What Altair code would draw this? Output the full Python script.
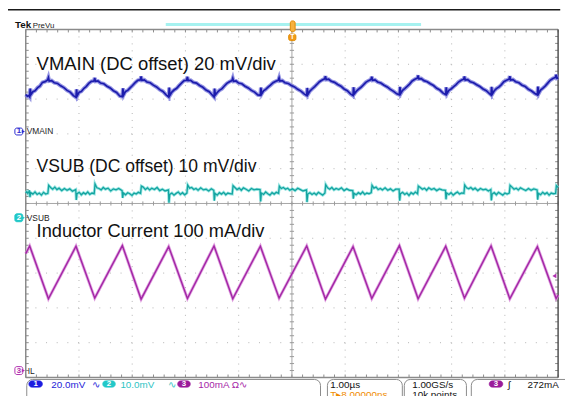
import altair as alt
import pandas as pd

# ---------------- data ----------------
# time in µs (1 µs/div, screen centre = 0), amplitude in screen divisions (centre = 0)
il_t = [-5.000, -4.926, -4.574, -4.056, -3.704, -3.185, -2.833, -2.315, -1.963,
        -1.463, -1.111, -0.593, -0.241, 0.278, 0.630, 1.148, 1.500, 2.019,
        2.370, 2.889, 3.241, 3.741, 4.093, 4.611, 4.963, 5.000]
il_v = [-1.44, -1.22, -2.74, -1.23, -2.72, -1.21, -2.75, -1.24, -2.73, -1.22,
        -2.74, -1.23, -2.72, -1.22, -2.75, -1.24, -2.73, -1.21, -2.74, -1.23,
        -2.72, -1.22, -2.74, -1.24, -2.73, -2.63]

vmain_t = [
    -5.000, -4.970, -4.945,
    -4.926, -4.916, -4.901, -4.866, -4.826, -4.776, -4.736, -4.686, -4.636, -4.589, -4.574, -4.559, -4.514, -4.464, -4.404, -4.344, -4.284, -4.224, -4.164, -4.104,
    -4.056, -4.046, -4.031, -3.996, -3.956, -3.906, -3.866, -3.816, -3.766, -3.719, -3.704, -3.689, -3.644, -3.594, -3.534, -3.474, -3.414, -3.354, -3.294, -3.234,
    -3.185, -3.175, -3.160, -3.125, -3.085, -3.035, -2.995, -2.945, -2.895, -2.848, -2.833, -2.818, -2.773, -2.723, -2.663, -2.603, -2.543, -2.483, -2.423, -2.363,
    -2.315, -2.305, -2.290, -2.255, -2.215, -2.165, -2.125, -2.075, -2.025, -1.978, -1.963, -1.948, -1.903, -1.853, -1.793, -1.733, -1.673, -1.613, -1.553, -1.493,
    -1.463, -1.453, -1.438, -1.403, -1.363, -1.313, -1.273, -1.223, -1.173, -1.126, -1.111, -1.096, -1.051, -1.001, -0.941, -0.881, -0.821, -0.761, -0.701, -0.641,
    -0.593, -0.583, -0.568, -0.533, -0.493, -0.443, -0.403, -0.353, -0.303, -0.256, -0.241, -0.226, -0.181, -0.131, -0.071, -0.011, 0.049, 0.109, 0.169, 0.229,
    0.278, 0.288, 0.303, 0.338, 0.378, 0.428, 0.468, 0.518, 0.568, 0.615, 0.630, 0.645, 0.690, 0.740, 0.800, 0.860, 0.920, 0.980, 1.040, 1.100,
    1.148, 1.158, 1.173, 1.208, 1.248, 1.298, 1.338, 1.388, 1.438, 1.485, 1.500, 1.515, 1.560, 1.610, 1.670, 1.730, 1.790, 1.850, 1.910, 1.970,
    2.019, 2.029, 2.044, 2.079, 2.119, 2.169, 2.209, 2.259, 2.309, 2.355, 2.370, 2.385, 2.430, 2.480, 2.540, 2.600, 2.660, 2.720, 2.780, 2.840,
    2.889, 2.899, 2.914, 2.949, 2.989, 3.039, 3.079, 3.129, 3.179, 3.226, 3.241, 3.256, 3.301, 3.351, 3.411, 3.471, 3.531, 3.591, 3.651, 3.711,
    3.741, 3.751, 3.766, 3.801, 3.841, 3.891, 3.931, 3.981, 4.031, 4.078, 4.093, 4.108, 4.153, 4.203, 4.263, 4.323, 4.383, 4.443, 4.503, 4.563,
    4.611, 4.621, 4.636, 4.671, 4.711, 4.761, 4.801, 4.851, 4.901, 4.948, 4.963, 4.978, 5.000,
]
vmain_v = [
    3.13, 3.08, 3.10,
    3.06, 3.30, 3.13, 3.21, 3.24, 3.33, 3.37, 3.48, 3.50, 3.55, 3.62, 3.52, 3.53, 3.47, 3.45, 3.38, 3.33, 3.25, 3.20, 3.10,
    3.05, 3.28, 3.10, 3.20, 3.22, 3.31, 3.36, 3.45, 3.51, 3.52, 3.61, 3.51, 3.52, 3.46, 3.44, 3.37, 3.32, 3.24, 3.19, 3.09,
    3.07, 3.31, 3.12, 3.22, 3.25, 3.33, 3.39, 3.47, 3.54, 3.55, 3.65, 3.54, 3.55, 3.49, 3.47, 3.40, 3.35, 3.27, 3.22, 3.12,
    3.06, 3.33, 3.11, 3.20, 3.26, 3.31, 3.38, 3.46, 3.53, 3.54, 3.64, 3.53, 3.54, 3.48, 3.46, 3.39, 3.34, 3.26, 3.21, 3.11,
    3.06, 3.30, 3.12, 3.19, 3.25, 3.30, 3.37, 3.45, 3.50, 3.53, 3.60, 3.51, 3.52, 3.46, 3.44, 3.37, 3.32, 3.25, 3.20, 3.12,
    3.11, 3.33, 3.15, 3.24, 3.28, 3.35, 3.40, 3.47, 3.51, 3.54, 3.61, 3.52, 3.53, 3.47, 3.45, 3.39, 3.35, 3.28, 3.23, 3.15,
    3.10, 3.32, 3.14, 3.23, 3.29, 3.36, 3.42, 3.50, 3.55, 3.58, 3.66, 3.56, 3.57, 3.51, 3.48, 3.42, 3.37, 3.29, 3.24, 3.15,
    3.10, 3.34, 3.15, 3.22, 3.28, 3.34, 3.40, 3.48, 3.53, 3.56, 3.64, 3.54, 3.55, 3.49, 3.46, 3.40, 3.35, 3.28, 3.22, 3.15,
    3.12, 3.35, 3.16, 3.25, 3.30, 3.37, 3.43, 3.52, 3.57, 3.60, 3.68, 3.58, 3.59, 3.53, 3.50, 3.44, 3.39, 3.31, 3.26, 3.17,
    3.13, 3.34, 3.16, 3.25, 3.29, 3.36, 3.41, 3.49, 3.54, 3.57, 3.65, 3.55, 3.56, 3.50, 3.47, 3.41, 3.36, 3.29, 3.24, 3.16,
    3.12, 3.35, 3.15, 3.24, 3.30, 3.35, 3.41, 3.50, 3.54, 3.57, 3.66, 3.55, 3.56, 3.50, 3.47, 3.40, 3.36, 3.28, 3.23, 3.16,
    3.12, 3.36, 3.16, 3.26, 3.31, 3.38, 3.45, 3.54, 3.59, 3.62, 3.70, 3.60, 3.61,
]

vsub_t = [
    -5.000, -4.980, -4.960, -4.945,
    -4.931, -4.921, -4.906, -4.866, -4.826, -4.786, -4.746, -4.706, -4.666, -4.626, -4.584, -4.569, -4.534, -4.494, -4.454, -4.414, -4.374, -4.324, -4.274, -4.224, -4.174, -4.124,
    -4.061, -4.051, -4.036, -3.996, -3.956, -3.916, -3.876, -3.836, -3.796, -3.756, -3.714, -3.699, -3.664, -3.624, -3.584, -3.544, -3.504, -3.454, -3.404, -3.354, -3.304, -3.254,
    -3.190, -3.180, -3.165, -3.125, -3.085, -3.045, -3.005, -2.965, -2.925, -2.885, -2.843, -2.828, -2.793, -2.753, -2.713, -2.673, -2.633, -2.583, -2.533, -2.483, -2.433, -2.383,
    -2.320, -2.310, -2.295, -2.255, -2.215, -2.175, -2.135, -2.095, -2.055, -2.015, -1.973, -1.958, -1.923, -1.883, -1.843, -1.803, -1.763, -1.713, -1.663, -1.613, -1.563, -1.513,
    -1.468, -1.458, -1.443, -1.403, -1.363, -1.323, -1.283, -1.243, -1.203, -1.163, -1.121, -1.106, -1.071, -1.031, -0.991, -0.951, -0.911, -0.861, -0.811, -0.761, -0.711, -0.661,
    -0.598, -0.588, -0.573, -0.533, -0.493, -0.453, -0.413, -0.373, -0.333, -0.293, -0.251, -0.236, -0.201, -0.161, -0.121, -0.081, -0.041, 0.009, 0.059, 0.109, 0.159, 0.209,
    0.273, 0.283, 0.298, 0.338, 0.378, 0.418, 0.458, 0.498, 0.538, 0.578, 0.620, 0.635, 0.670, 0.710, 0.750, 0.790, 0.830, 0.880, 0.930, 0.980, 1.030, 1.080,
    1.143, 1.153, 1.168, 1.208, 1.248, 1.288, 1.328, 1.368, 1.408, 1.448, 1.490, 1.505, 1.540, 1.580, 1.620, 1.660, 1.700, 1.750, 1.800, 1.850, 1.900, 1.950,
    2.014, 2.024, 2.039, 2.079, 2.119, 2.159, 2.199, 2.239, 2.279, 2.319, 2.360, 2.375, 2.410, 2.450, 2.490, 2.530, 2.570, 2.620, 2.670, 2.720, 2.770, 2.820,
    2.884, 2.894, 2.909, 2.949, 2.989, 3.029, 3.069, 3.109, 3.149, 3.189, 3.231, 3.246, 3.281, 3.321, 3.361, 3.401, 3.441, 3.491, 3.541, 3.591, 3.641, 3.691,
    3.736, 3.746, 3.761, 3.801, 3.841, 3.881, 3.921, 3.961, 4.001, 4.041, 4.083, 4.098, 4.133, 4.173, 4.213, 4.253, 4.293, 4.343, 4.393, 4.443, 4.493, 4.543,
    4.606, 4.616, 4.631, 4.671, 4.711, 4.751, 4.791, 4.831, 4.871, 4.911, 4.953, 4.968, 5.000,
]
vsub_v = [
    0.30, 0.34, 0.29, 0.33,
    0.38, 0.18, 0.31, 0.27, 0.33, 0.26, 0.30, 0.24, 0.32, 0.27, 0.29, 0.52, 0.46, 0.41, 0.47, 0.40, 0.44, 0.37, 0.43, 0.38, 0.42, 0.35,
    0.40, 0.10, 0.28, 0.32, 0.25, 0.31, 0.27, 0.33, 0.26, 0.30, 0.28, 0.56, 0.45, 0.43, 0.39, 0.46, 0.41, 0.44, 0.36, 0.42, 0.39, 0.43,
    0.37, 0.16, 0.30, 0.25, 0.31, 0.28, 0.23, 0.30, 0.27, 0.32, 0.29, 0.50, 0.47, 0.40, 0.45, 0.39, 0.44, 0.40, 0.46, 0.37, 0.41, 0.36,
    0.39, 0.02, 0.26, 0.30, 0.24, 0.29, 0.33, 0.26, 0.31, 0.25, 0.30, 0.53, 0.44, 0.46, 0.40, 0.43, 0.38, 0.45, 0.39, 0.41, 0.36, 0.42,
    0.38, 0.08, 0.29, 0.24, 0.31, 0.27, 0.32, 0.25, 0.30, 0.28, 0.27, 0.51, 0.46, 0.40, 0.44, 0.38, 0.45, 0.41, 0.36, 0.43, 0.39, 0.41,
    0.40, 0.06, 0.30, 0.26, 0.33, 0.28, 0.24, 0.31, 0.27, 0.32, 0.29, 0.50, 0.43, 0.46, 0.41, 0.44, 0.38, 0.42, 0.37, 0.44, 0.40, 0.36,
    0.39, 0.04, 0.27, 0.31, 0.26, 0.30, 0.25, 0.32, 0.28, 0.24, 0.30, 0.54, 0.45, 0.41, 0.46, 0.39, 0.43, 0.40, 0.45, 0.37, 0.42, 0.38,
    0.37, 0.14, 0.29, 0.25, 0.31, 0.27, 0.33, 0.26, 0.30, 0.28, 0.31, 0.52, 0.44, 0.47, 0.40, 0.43, 0.39, 0.45, 0.38, 0.42, 0.36, 0.41,
    0.41, 0.08, 0.28, 0.32, 0.26, 0.30, 0.23, 0.31, 0.27, 0.33, 0.28, 0.50, 0.46, 0.41, 0.44, 0.38, 0.45, 0.40, 0.43, 0.37, 0.42, 0.39,
    0.38, 0.12, 0.30, 0.26, 0.31, 0.24, 0.29, 0.33, 0.27, 0.30, 0.29, 0.53, 0.45, 0.42, 0.46, 0.40, 0.44, 0.37, 0.43, 0.39, 0.41, 0.36,
    0.40, 0.09, 0.27, 0.31, 0.25, 0.32, 0.28, 0.24, 0.30, 0.27, 0.30, 0.52, 0.47, 0.41, 0.44, 0.39, 0.45, 0.41, 0.37, 0.43, 0.38, 0.42,
    0.39, 0.11, 0.29, 0.25, 0.32, 0.27, 0.31, 0.24, 0.30, 0.28, 0.29, 0.51, 0.46,
]

trace_labels = ["VMAIN (DC offset) 20 mV/div", "VSUB (DC offset) 10 mV/div", "Inductor Current 100 mA/div"]
channel_names = ["VMAIN", "VSUB", "IL"]
readouts = ["20.0mV", "10.0mV", "100mA \u03a9\u223f"]
timebase = "1.00\u00b5s"
sample_rate = "1.00GS/s"
record_len = "10k points"
trig_pos = "T\u25b88.00000ns"
trig_level = "272mA"

# ---------------- helpers ----------------
FONT = "Liberation Sans"
XS = alt.Scale(domain=[-5, 5], nice=False, zero=False)
YS = alt.Scale(domain=[-5, 5], nice=False, zero=False)


def X(f):
    return alt.X(f, type="quantitative", scale=XS, axis=None)


def Y(f):
    return alt.Y(f, type="quantitative", scale=YS, axis=None)


def segs(rows, **kw):
    d = pd.DataFrame(rows, columns=["t", "t2", "v", "v2"])
    return alt.Chart(d).mark_rule(**kw).encode(x=X("t"), x2="t2", y=Y("v"), y2="v2")


def boxes(rows, **kw):
    d = pd.DataFrame(rows, columns=["t", "t2", "v", "v2", "f", "s"])
    return alt.Chart(d).mark_rect(**kw).encode(
        x=X("t"), x2="t2", y=Y("v"), y2="v2",
        fill=alt.Fill("f:N", scale=None), stroke=alt.Stroke("s:N", scale=None))


def texts(rows, **kw):
    d = pd.DataFrame(rows, columns=["t", "v", "s", "c"])
    return alt.Chart(d).mark_text(font=FONT, **kw).encode(
        x=X("t"), y=Y("v"), text="s:N", color=alt.Color("c:N", scale=None))


def trace(t, v, halo, core, hw, cw):
    d = pd.DataFrame({"t": t, "v": v, "i": list(range(len(t)))})
    base = alt.Chart(d).encode(x=X("t"), y=Y("v"), order=alt.Order("i:Q"))
    return (base.mark_line(color=halo, strokeWidth=hw, opacity=0.8)
            + base.mark_line(color=core, strokeWidth=cw))


# ---------------- graticule ----------------
major = [-4, -3, -2, -1, 1, 2, 3, 4]
minor = [round(-5 + 0.2 * i, 2) for i in range(51)]

vgrid = alt.Chart(pd.DataFrame({"t": major})).mark_rule(
    color="#b4b4b4", strokeWidth=1, strokeDash=[1, 6.06]).encode(x=X("t"))
hgrid = alt.Chart(pd.DataFrame({"v": major})).mark_rule(
    color="#b4b4b4", strokeWidth=1, strokeDash=[1, 9.8]).encode(y=Y("v"))

centre = segs([(0, 0, -5, 5), (-5, 5, 0, 0)], color="#a6a6a6", strokeWidth=1)
cticks = segs([(m, m, 0.06, -0.06) for m in minor] + [(-0.04, 0.04, m, m) for m in minor],
              color="#9a9a9a", strokeWidth=1)
bticks = segs([(m, m, 5, 4.915) for m in minor] + [(m, m, -5, -4.915) for m in minor]
              + [(-5, -4.944, m, m) for m in minor] + [(5, 4.944, m, m) for m in minor],
              color="#8c8c8c", strokeWidth=1)
border = segs([(-5, 5, 5, 5), (-5, 5, -5, -5), (-5, -5, -5, 5)], color="#8a8a8a", strokeWidth=1.5)
rborder = segs([(5, 5, -5, 5)], color="#505050", strokeWidth=1.5)

# ---------------- header ----------------
topline = segs([(-5.5, 5.04, 5.567, 5.567)], color="#1a1a1a", strokeWidth=1.5)
prevu = segs([(-2.370, 2.426, 5.142, 5.142)], color="#a6f2f0", strokeWidth=3)
tek = texts([(-5.204, 5.042, "Tek", "#111111")], fontSize=10, fontWeight="bold", align="left", baseline="alphabetic")
prev_t = texts([(-4.870, 5.042, "PreVu", "#222222")], fontSize=8, align="left", baseline="alphabetic")
trig_marks = boxes([(-0.03, 0.06, 5.246, 4.935, "#f6b240", "#e08a00"),
                    (-0.061, 0.074, 4.867, 4.68, "#f29a18", "#e08a00")],
                   cornerRadius=2, strokeWidth=1)
trig_T = texts([(0.007, 4.77, "T", "#ffffff")], fontSize=7, fontWeight="bold", align="center", baseline="middle")

# ---------------- traces ----------------
tr_main = trace(vmain_t, vmain_v, "#7b7bdc", "#1c1cac", 4.0, 1.7)
tr_sub = trace(vsub_t, vsub_v, "#7fdedb", "#14a4a0", 3.0, 1.3)
tr_il = trace(il_t, il_v, "#d88ad8", "#a226a5", 3.0, 1.4)

labels = alt.layer(
    texts([(-4.796, 3.84, trace_labels[0], "#111111")], fontSize=18.7, align="left", baseline="alphabetic"),
    texts([(-4.796, 0.90, trace_labels[1], "#111111")], fontSize=17.8, align="left", baseline="alphabetic"),
    texts([(-4.796, -0.977, trace_labels[2], "#111111")], fontSize=18.5, align="left", baseline="alphabetic"),
)

# channel ground markers
tags = boxes([(-5.204, -5.056, 2.167, 1.969, "#ffffff", "#2a2ad0"),
              (-5.204, -5.056, -0.297, -0.524, "#22c8c8", "#22c8c8"),
              (-5.204, -5.056, -4.688, -4.915, "#ffffff", "#b030b0")],
             cornerRadius=2, strokeWidth=1)
tips = alt.Chart(pd.DataFrame({"t": [-5.045, -5.045, -5.045], "v": [2.068, -0.411, -4.802],
                               "c": ["#2a2ad0", "#22c8c8", "#b030b0"]})).mark_point(
    shape="triangle-right", filled=True, size=14, opacity=1).encode(
    x=X("t"), y=Y("v"), color=alt.Color("c:N", scale=None))
tag_num = texts([(-5.13, 2.068, "1", "#2a2ad0"), (-5.13, -0.411, "2", "#ffffff"),
                 (-5.13, -4.802, "3", "#b030b0")],
                fontSize=8, fontWeight="bold", align="center", baseline="middle")
tag_name = texts([(-4.981, 2.068, channel_names[0], "#222222"),
                  (-4.981, -0.411, channel_names[1], "#222222"),
                  (-4.963, -4.802, channel_names[2], "#222222")],
                 fontSize=8.5, align="left", baseline="middle")
trig_lvl = alt.Chart(pd.DataFrame({"t": [4.93], "v": [-2.082]})).mark_point(
    shape="triangle-left", filled=True, size=22, color="#b030b0", opacity=1).encode(x=X("t"), y=Y("v"))

# ---------------- bottom readout bar ----------------
bar_boxes = boxes([(-4.981, 0.537, -5.057, -5.75, "#ffffff", "#8a8a8a"),
                   (0.667, 2.074, -5.057, -5.75, "#ffffff", "#8a8a8a"),
                   (2.111, 3.278, -5.057, -5.75, "#ffffff", "#8a8a8a"),
                   (3.370, 5.30, -5.057, -5.75, "#ffffff", "#8a8a8a")],
                  cornerRadius=6, strokeWidth=1)
pills = boxes([(-4.944, -4.685, -5.093, -5.283, "#1c1ce0", "#1c1ce0"),
               (-3.556, -3.315, -5.093, -5.283, "#22c8c8", "#22c8c8"),
               (-2.148, -1.907, -5.093, -5.283, "#9a1a9a", "#9a1a9a"),
               (3.704, 3.963, -5.093, -5.283, "#9a1a9a", "#9a1a9a")],
              cornerRadius=4, strokeWidth=0.5)
pill_num = texts([(-4.815, -5.188, "1", "#ffffff"), (-3.435, -5.188, "2", "#ffffff"),
                  (-2.028, -5.188, "3", "#ffffff"), (3.833, -5.188, "3", "#ffffff")],
                 fontSize=8, fontWeight="bold", align="center", baseline="middle")
bar_text = texts([(-4.519, -5.305, readouts[0], "#2424d8"),
                  (-3.759, -5.305, "\u223f", "#2424d8"),
                  (-3.222, -5.305, readouts[1], "#2ec4c4"),
                  (-2.333, -5.305, "\u223f", "#2ec4c4"),
                  (-1.759, -5.305, readouts[2], "#a626a8"),
                  (0.722, -5.305, timebase, "#111111"),
                  (2.259, -5.305, sample_rate, "#111111"),
                  (4.056, -5.305, "\u222b", "#111111"),
                  (4.426, -5.305, trig_level, "#111111")],
                 fontSize=10, align="left", baseline="alphabetic")
bar_text2 = texts([(0.722, -5.60, trig_pos, "#f08c00"),
                   (2.259, -5.60, record_len, "#111111")],
                  fontSize=10, align="left", baseline="alphabetic")

chart = alt.layer(
    vgrid, hgrid, centre, cticks, bticks, border, rborder,
    topline, prevu, tek, prev_t,
    tr_main, tr_sub, tr_il,
    labels, tags, tips, tag_num, tag_name, trig_lvl,
    trig_marks, trig_T,
    bar_boxes, pills, pill_num, bar_text, bar_text2,
).properties(
    width=540, height=353,
    padding={"left": 18, "top": 19, "right": 7, "bottom": 16},
    autosize=alt.AutoSizeParams(type="none"),
    background="#ffffff",
).configure_view(stroke=None)

chart.save("out.html", embed_options={"renderer": "svg", "actions": False})
